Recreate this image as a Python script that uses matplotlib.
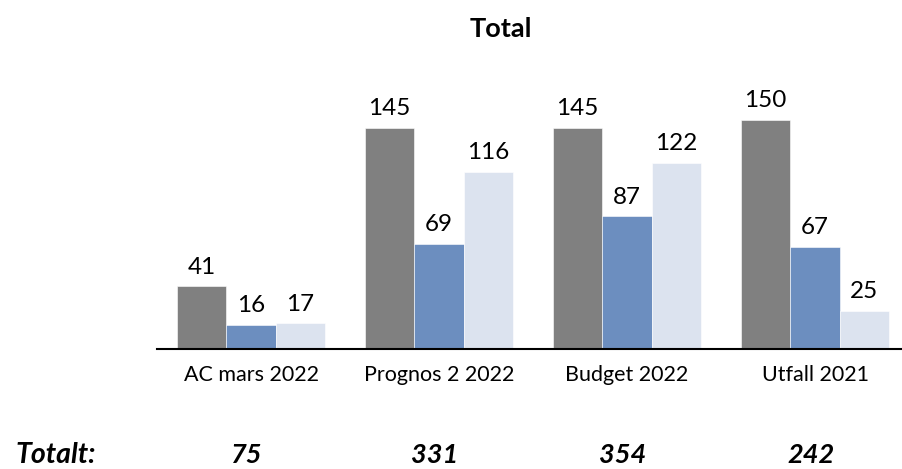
import matplotlib.pyplot as plt
import numpy as np

plt.rcParams['font.family'] = ['Lato', 'DejaVu Sans']

# data
categories = ["AC mars 2022", "Prognos 2 2022", "Budget 2022", "Utfall 2021"]
serie_1 = [41, 145, 145, 150]
serie_2 = [16, 69, 87, 67]
serie_3 = [17, 116, 122, 25]
totals = [75, 331, 354, 242]

colors = ["#808080", "#6C8EBF", "#DCE3EF"]

W, H = 902, 469
fig = plt.figure(figsize=(W / 100, H / 100), dpi=100)

# plot area: baseline at y=349px, category spacing 188px
left, right = 157, 909
bottom, top = 349, 60
ax = fig.add_axes([left / W, 1 - bottom / H, (right - left) / W, (bottom - top) / H])

x = np.arange(len(categories))
bw = 0.263
series = [serie_1, serie_2, serie_3]
for k, vals in enumerate(series):
    pos = x + (k - 1) * bw
    ax.bar(pos, vals, width=bw, color=colors[k], edgecolor="white", linewidth=0.4)
    for xi, v in zip(pos, vals):
        ax.annotate(str(v), (xi, v), xytext=(0, 9), textcoords="offset points",
                    ha="center", va="baseline", fontsize=17.5)

ymax = (bottom - top) / 1.527
ax.set_ylim(0, ymax)
ax.set_xlim(-0.5, 3.5)

for s in ["top", "right", "left"]:
    ax.spines[s].set_visible(False)
ax.spines["bottom"].set_linewidth(1.5)
ax.set_yticks([])
ax.set_xticks(x)
ax.set_xticklabels([])
ax.tick_params(axis="x", length=0)

# category labels, baseline 32px under the axis
for xi, c in zip(x, categories):
    ax.annotate(c, (xi, 0), xytext=(0, -32 * 0.72), textcoords="offset points",
                ha="center", va="baseline", fontsize=15.5)

# title
fig.text(501 / W, 1 - 37 / H, "Total", ha="center", va="baseline",
         fontsize=19.5, fontweight="bold")

# totals row
ty = 1 - 463 / H
fig.text(15 / W, ty, "Totalt:", ha="left", va="baseline",
         fontsize=20.5, fontweight="bold", fontstyle="italic")
for xi, t in zip(x, totals):
    xf = fig.transFigure.inverted().transform(ax.transData.transform((xi, 0)))[0]
    fig.text(xf - 4 / W, ty, str(t), ha="center", va="baseline",
             fontsize=19.5, fontweight="bold", fontstyle="italic")

fig.savefig("out.png", dpi=100)
